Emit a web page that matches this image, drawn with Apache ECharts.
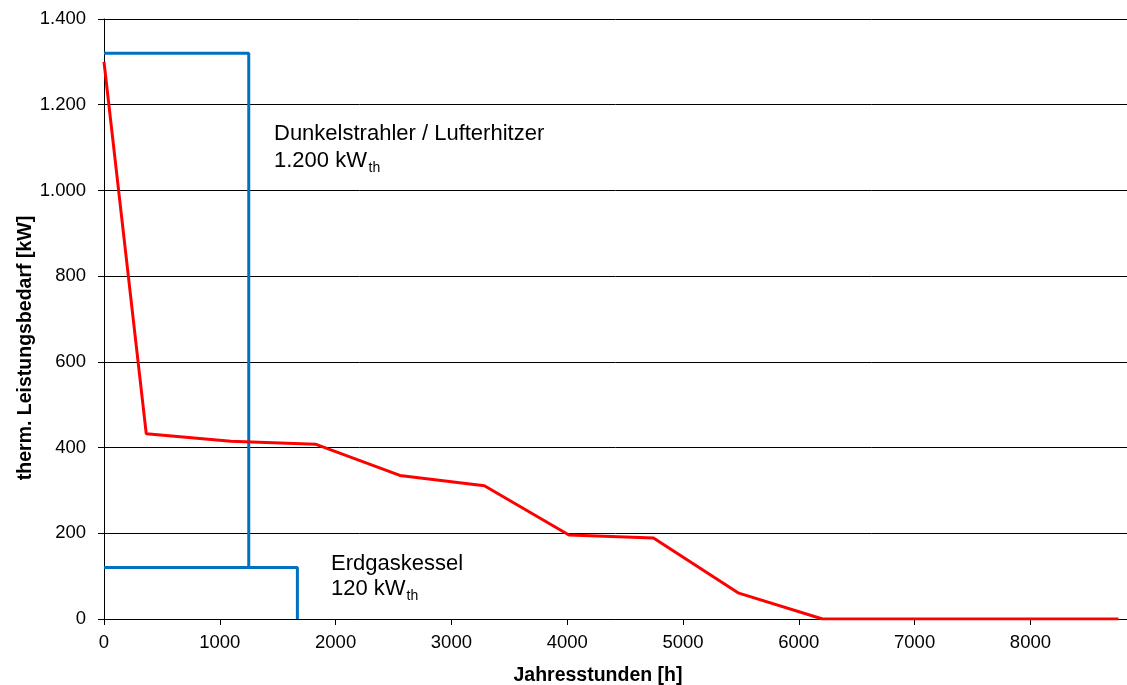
<!DOCTYPE html>
<html>
<head>
<meta charset="utf-8">
<script src="https://cdn.jsdelivr.net/npm/echarts@6/dist/echarts.min.js"></script>
<style>
    html, body { margin: 0; padding: 0; background: #fff; }
    #main { width: 1127px; height: 685px; }
</style>
</head>
<body>
<div id="main"></div>
<script>
// Jahresdauerlinie (red)
var hours = [0, 365, 1095, 1825, 2555, 3285, 4015, 4745, 5475, 6205, 8760];
var demand = [1300, 432, 415, 408, 335, 311, 196, 189, 61, 0, 0];

// installed capacities (blue boxes)
var dunkelHours = [0, 1250, 1250];
var dunkelPower = [1320, 1320, 120];
var erdgasHours = [0, 1670, 1670];
var erdgasPower = [120, 120, 0];

var yTicks = [0, 200, 400, 600, 800, 1000, 1200, 1400];
var xTicks = [0, 1000, 2000, 3000, 4000, 5000, 6000, 7000, 8000];

function pairs(xs, ys) {
    return xs.map(function (x, i) { return [x, ys[i]]; });
}

// 1400 -> 1.400
function deNumber(v) {
    return String(v).replace(/\B(?=(\d{3})+(?!\d))/g, '.');
}

var font = 'Liberation Sans, Arial, sans-serif';

var chart = echarts.init(document.getElementById('main'));

var option = {
    animation: false,
    backgroundColor: '#fff',
    grid: {left: 104, right: 0, top: 19, bottom: 66},
    xAxis: {
        type: 'value',
        min: 0,
        max: 8834,
        interval: 1000,
        axisLine: {lineStyle: {color: '#000', width: 1}},
        axisTick: {show: true, length: 6, lineStyle: {color: '#000'}},
        axisLabel: {
            color: '#000', fontSize: 18.5, fontFamily: font, margin: 14,
            showMaxLabel: false,
            formatter: function (v) { return xTicks.indexOf(v) >= 0 ? String(v) : ''; }
        },
        splitLine: {show: false}
    },
    yAxis: {
        type: 'value',
        min: 0,
        max: 1400,
        interval: 200,
        axisLine: {show: true, lineStyle: {color: '#000', width: 1}},
        axisTick: {show: true, length: 6, lineStyle: {color: '#000'}},
        axisLabel: {
            color: '#000', fontSize: 18.5, fontFamily: font, margin: 18,
            formatter: function (v) { return yTicks.indexOf(v) >= 0 ? deNumber(v) : ''; }
        },
        splitLine: {show: true, lineStyle: {color: '#000', width: 1}}
    },
    series: [
        {
            name: 'Dunkelstrahler / Lufterhitzer',
            type: 'line',
            data: pairs(dunkelHours, dunkelPower),
            symbol: 'none',
            lineStyle: {color: '#0070C0', width: 3},
            z: 3
        },
        {
            name: 'Erdgaskessel',
            type: 'line',
            data: pairs(erdgasHours, erdgasPower),
            symbol: 'none',
            lineStyle: {color: '#0070C0', width: 3},
            z: 3
        },
        {
            name: 'therm. Leistungsbedarf',
            type: 'line',
            data: pairs(hours, demand),
            symbol: 'none',
            lineStyle: {color: '#FF0000', width: 3},
            z: 4
        }
    ],
    graphic: [
        // axis titles
        {
            type: 'text', x: 598, y: 676,
            style: {text: 'Jahresstunden [h]', fill: '#000', font: 'bold 19.5px ' + font,
                textAlign: 'center', textVerticalAlign: 'middle'}
        },
        {
            type: 'text', x: 26, y: 348, rotation: Math.PI / 2,
            style: {text: 'therm. Leistungsbedarf [kW]', fill: '#000', font: 'bold 19.5px ' + font,
                textAlign: 'center', textVerticalAlign: 'middle'}
        },
        // annotations
        {
            type: 'text', x: 274, y: 134,
            style: {text: 'Dunkelstrahler / Lufterhitzer', fill: '#000', font: '22px ' + font,
                textAlign: 'left', textVerticalAlign: 'middle'}
        },
        {
            type: 'text', x: 274, y: 160.7,
            style: {text: '1.200 kW', fill: '#000', font: '22px ' + font,
                textAlign: 'left', textVerticalAlign: 'middle'}
        },
        {
            type: 'text', x: 368.5, y: 168.5,
            style: {text: 'th', fill: '#000', font: '14px ' + font,
                textAlign: 'left', textVerticalAlign: 'middle'}
        },
        {
            type: 'text', x: 331, y: 564,
            style: {text: 'Erdgaskessel', fill: '#000', font: '22px ' + font,
                textAlign: 'left', textVerticalAlign: 'middle'}
        },
        {
            type: 'text', x: 331, y: 589,
            style: {text: '120 kW', fill: '#000', font: '22px ' + font,
                textAlign: 'left', textVerticalAlign: 'middle'}
        },
        {
            type: 'text', x: 406.5, y: 596,
            style: {text: 'th', fill: '#000', font: '14px ' + font,
                textAlign: 'left', textVerticalAlign: 'middle'}
        }
    ]
};

chart.setOption(option);
</script>
</body>
</html>
